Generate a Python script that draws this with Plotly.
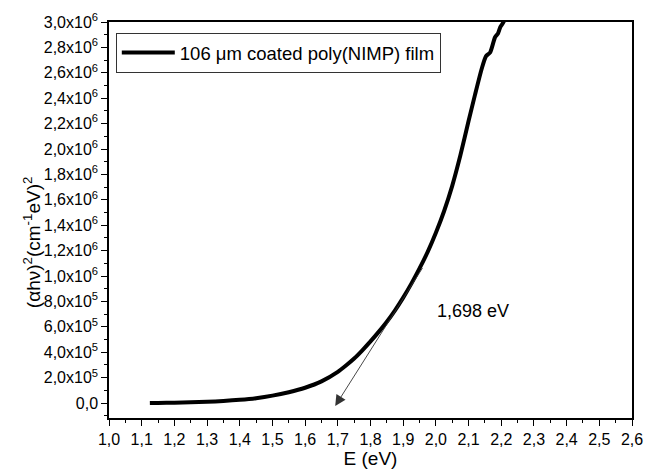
import plotly.graph_objects as go

energy = [1.125, 1.15, 1.2, 1.25, 1.3, 1.35, 1.4, 1.45, 1.5, 1.55, 1.6, 1.65, 1.7, 1.725,
          1.75, 1.775, 1.8, 1.825, 1.85, 1.875, 1.9, 1.925, 1.95, 1.975, 2.0, 2.025, 2.05,
          2.075, 2.1, 2.12, 2.14, 2.153, 2.166, 2.181, 2.19, 2.197, 2.207, 2.217]
alpha_hv2 = [0, 1e3, 3e3, 6e3, 1.0e4, 1.6e4, 2.5e4, 3.8e4, 5.8e4, 8.5e4, 1.2e5, 1.7e5,
             2.45e5, 2.95e5, 3.5e5, 4.15e5, 4.85e5, 5.6e5, 6.4e5, 7.3e5, 8.3e5, 9.4e5,
             1.06e6, 1.19e6, 1.34e6, 1.51e6, 1.71e6, 1.95e6, 2.22e6, 2.43e6, 2.63e6, 2.73e6,
             2.76e6, 2.88e6, 2.91e6, 2.96e6, 3.0e6, 3.08e6]

x_ticks = [round(1.0 + 0.1 * i, 1) for i in range(17)]
x_ticktext = [f"{v:.1f}".replace(".", ",") for v in x_ticks]
y_ticks = [i * 2e5 for i in range(16)]
y_ticktext = ["0,0"]
for v in y_ticks[1:]:
    if v < 1e6:
        y_ticktext.append(f"{v/1e5:.1f}".replace(".", ",") + "x10<sup>5</sup>")
    else:
        y_ticktext.append(f"{v/1e6:.1f}".replace(".", ",") + "x10<sup>6</sup>")

tangent_start = (1.962, 1.075e6)
tangent_end = (1.692, -2.4e4)
gap_label = "1,698 eV"
gap_label_pos = (2.114, 7.26e5)

fig = go.Figure()
fig.add_trace(go.Scatter(x=energy, y=alpha_hv2, mode="lines",
                         line=dict(color="black", width=4, shape="spline", smoothing=0.6),
                         name="106 \u03bcm coated poly(NIMP) film"))

font_family = "Liberation Sans, Arial, sans-serif"

fig.update_layout(
    width=646, height=469,
    margin=dict(l=109, r=14, t=22, b=51),
    paper_bgcolor="white", plot_bgcolor="white",
    font=dict(family=font_family, color="black", size=16),
    showlegend=True,
    legend=dict(x=0.013, y=0.972, xanchor="left", yanchor="top",
                bordercolor="#333333", borderwidth=1, bgcolor="white",
                font=dict(size=18.5), itemwidth=53),
    xaxis=dict(range=[1.0, 2.6], tickmode="array", tickvals=x_ticks, ticktext=x_ticktext,
               ticks="outside", ticklen=6, tickwidth=1.2, tickcolor="black",
               showline=True, linecolor="black", linewidth=1.5, mirror=True,
               showgrid=False, zeroline=False, automargin=False,
               minor=dict(tickmode="linear", tick0=1.0, dtick=0.05, ticks="outside",
                          ticklen=3, tickwidth=1, tickcolor="black", showgrid=False),
               tickfont=dict(size=16),
               title=dict(text="E (eV)", font=dict(size=19), standoff=5)),
    yaxis=dict(range=[-1.18e5, 3.0e6], tickmode="array", tickvals=y_ticks, ticktext=y_ticktext,
               ticks="outside", ticklen=6, tickwidth=1.2, tickcolor="black",
               showline=True, linecolor="black", linewidth=1.5, mirror=True,
               showgrid=False, zeroline=False, automargin=False,
               minor=dict(tickmode="linear", tick0=0, dtick=1e5, ticks="outside",
                          ticklen=3, tickwidth=1, tickcolor="black", showgrid=False),
               tickfont=dict(size=16)),
)

fig.add_annotation(x=tangent_end[0], y=tangent_end[1], ax=tangent_start[0], ay=tangent_start[1],
                   xref="x", yref="y", axref="x", ayref="y", text="", showarrow=True,
                   arrowhead=2, arrowsize=2.4, arrowwidth=0.9, arrowcolor="#333333")
fig.add_annotation(x=gap_label_pos[0], y=gap_label_pos[1], xref="x", yref="y", text=gap_label,
                   showarrow=False, font=dict(size=18))
fig.add_annotation(x=-0.174, y=0.444, xref="paper", yref="paper", textangle=-90,
                   text="(\u03b1h\u03bd)<sup>2</sup>(cm<sup>-1</sup>eV)<sup>2</sup>",
                   showarrow=False, font=dict(size=19))

fig.write_html("out.html")
